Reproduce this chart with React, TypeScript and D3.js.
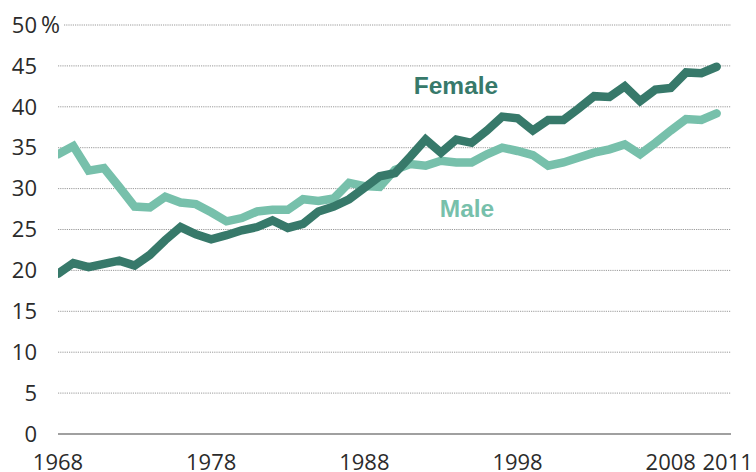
import React, { useEffect, useRef } from 'react';
import * as d3 from 'd3';

// Share (%) by year, 1968-2011
const years: number[] = d3.range(1968, 2012);
const female: number[] = [
  19.6, 20.9, 20.4, 20.8, 21.2, 20.6, 21.9, 23.7, 25.3, 24.4,
  23.8, 24.3, 24.9, 25.3, 26.1, 25.2, 25.7, 27.2, 27.8, 28.7,
  30.1, 31.5, 31.9, 33.9, 36.0, 34.4, 36.0, 35.6, 37.1, 38.8,
  38.6, 37.1, 38.4, 38.4, 39.8, 41.3, 41.2, 42.5, 40.7, 42.1,
  42.3, 44.2, 44.1, 44.9,
];
const male: number[] = [
  34.2, 35.2, 32.2, 32.5, 30.2, 27.8, 27.7, 29.0, 28.3, 28.1,
  27.1, 26.0, 26.4, 27.2, 27.4, 27.4, 28.7, 28.5, 28.8, 30.7,
  30.3, 30.2, 32.3, 33.0, 32.8, 33.4, 33.2, 33.2, 34.2, 35.0,
  34.6, 34.1, 32.8, 33.2, 33.8, 34.4, 34.8, 35.4, 34.2, 35.6,
  37.1, 38.5, 38.4, 39.2,
];
const yTicks: number[] = [0, 5, 10, 15, 20, 25, 30, 35, 40, 45, 50];
const xTicks: number[] = [1968, 1978, 1988, 1998, 2008, 2011];

const FEMALE_COLOR = '#37796a';
const MALE_COLOR = '#77c0ab';

const W = 756;
const H = 472;

const App = () => {
  const svgRef = useRef<SVGSVGElement | null>(null);

  useEffect(() => {
    const svg = d3.select(svgRef.current);
    svg.selectAll('*').remove();

    const x = d3.scaleLinear().domain([1968, 2012]).range([58, 732]);
    const y = d3.scaleLinear().domain([0, 50]).range([434, 25]);

    const tickFont = '"Open Sans", "DejaVu Sans", sans-serif';
    const tickSize = '22px';

    // --- gridlines ---
    svg.append('g')
      .selectAll('line')
      .data(yTicks.filter(d => d > 0))
      .enter().append('line')
      .attr('x1', d => (d === 50 ? 64 : 58))
      .attr('x2', 731)
      .attr('y1', d => y(d))
      .attr('y2', d => y(d))
      .style('stroke', '#9a9a9a')
      .style('stroke-width', 1)
      .style('stroke-dasharray', '1.2 1');

    // baseline
    svg.append('line')
      .attr('x1', 58).attr('x2', 731)
      .attr('y1', y(0)).attr('y2', y(0))
      .style('stroke', '#a0a0a0')
      .style('stroke-width', 2);

    // --- y labels ---
    svg.append('g')
      .selectAll('text')
      .data(yTicks)
      .enter().append('text')
      .attr('x', 37)
      .attr('y', d => y(d))
      .attr('dy', '0.35em')
      .attr('text-anchor', 'end')
      .style('font-family', tickFont)
      .style('font-size', tickSize)
      .style('fill', '#2b2b2b')
      .text(d => d);

    svg.append('text')
      .attr('x', 41)
      .attr('y', y(50))
      .attr('dy', '0.35em')
      .style('font-family', tickFont)
      .style('font-size', '23px')
      .style('fill', '#2b2b2b')
      .text('%');

    // --- x labels ---
    svg.append('g')
      .selectAll('text')
      .data(xTicks)
      .enter().append('text')
      .attr('x', d => x(d) + (d === 2011 ? 11 : 0))
      .attr('y', 470)
      .attr('text-anchor', 'middle')
      .style('font-family', tickFont)
      .style('font-size', tickSize)
      .style('fill', '#2b2b2b')
      .text(d => d);

    // --- lines ---
    svg.append('defs').append('clipPath').attr('id', 'plot-clip')
      .append('rect').attr('x', 58).attr('y', 0).attr('width', W - 58).attr('height', H);

    const line = d3.line<number>()
      .x((_, i) => x(years[i]))
      .y(d => y(d));

    const series = [
      { values: male, color: MALE_COLOR },
      { values: female, color: FEMALE_COLOR },
    ];

    svg.append('g')
      .attr('clip-path', 'url(#plot-clip)')
      .selectAll('path')
      .data(series)
      .enter().append('path')
      .attr('d', d => line(d.values))
      .style('fill', 'none')
      .style('stroke', d => d.color)
      .style('stroke-width', 8.5)
      .style('stroke-linejoin', 'miter')
      .style('stroke-linecap', 'round');

    // --- series labels ---
    const labelFont = '"Liberation Sans", Arial, sans-serif';
    svg.append('text')
      .attr('x', 456).attr('y', 94)
      .attr('text-anchor', 'middle')
      .style('font-family', labelFont)
      .style('font-weight', 'bold')
      .style('font-size', '24.5px')
      .style('fill', FEMALE_COLOR)
      .text('Female');

    svg.append('text')
      .attr('x', 467).attr('y', 217)
      .attr('text-anchor', 'middle')
      .style('font-family', labelFont)
      .style('font-weight', 'bold')
      .style('font-size', '24.5px')
      .style('fill', MALE_COLOR)
      .text('Male');
  }, []);

  return (
    <div style={{ position: 'absolute', left: 0, top: 0, width: W, height: H, background: '#fff' }}>
      <svg ref={svgRef} width={W} height={H} />
    </div>
  );
};

export default App;
